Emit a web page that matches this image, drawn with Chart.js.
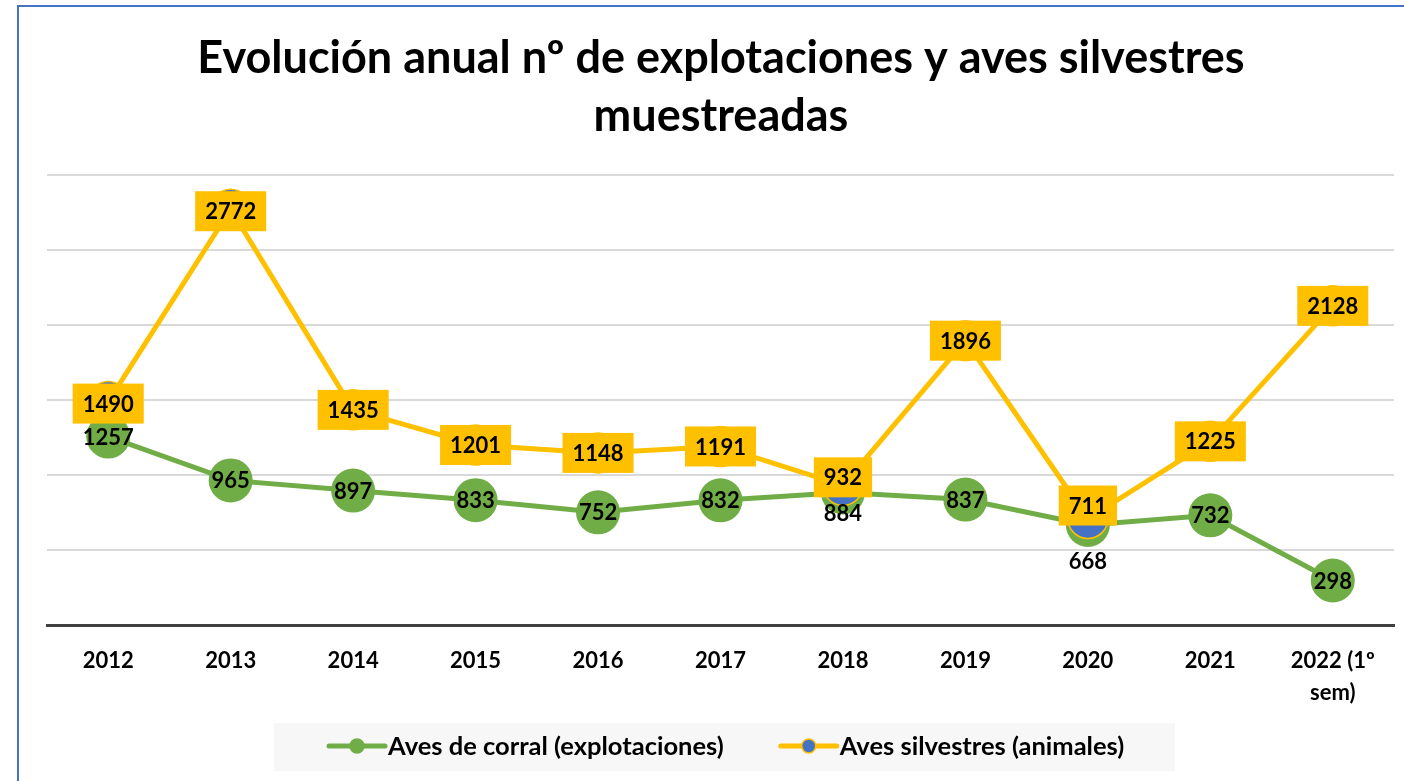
<!DOCTYPE html>
<html>
<head>
<meta charset="utf-8">
<script src="https://cdn.jsdelivr.net/npm/chart.js@4.4.1/dist/chart.umd.min.js"></script>
<style>
  html, body { margin: 0; padding: 0; background: #fff; overflow: hidden; }
  #frame { position: absolute; left: 17px; top: 5px; width: 1500px; height: 900px; border: 2px solid #4472c4; box-sizing: border-box; }
  #wrap { position: absolute; left: 0; top: 0; width: 1404px; height: 781px; }
</style>
</head>
<body>
<div id="frame"></div>
<div id="wrap"><canvas id="c" width="1404" height="781"></canvas></div>
<script>
const TITLE_LINES = ['Evolución anual nº de explotaciones y aves silvestres', 'muestreadas'];
const CATEGORIES = ['2012', '2013', '2014', '2015', '2016', '2017', '2018', '2019', '2020', '2021', ['2022 (1º', 'sem)']];
const SERIES_NAMES = ['Aves de corral (explotaciones)', 'Aves silvestres (animales)'];
const CORRAL = [1257, 965, 897, 833, 752, 832, 884, 837, 668, 732, 298];
const SILVESTRES = [1490, 2772, 1435, 1201, 1148, 1191, 932, 1896, 711, 1225, 2128];
const Y_MIN = 0, Y_MAX = 3000, Y_STEP = 500;

const FONT = 'Lato, "Open Sans", sans-serif';
const GREEN = '#70ad47', YELLOW = '#ffc000', BLUE = '#4472c4';

const titlePlugin = {
  id: 'customTitle',
  afterDraw(chart) {
    const ctx = chart.ctx;
    ctx.save();
    ctx.font = 'bold 45px ' + FONT;
    ctx.fillStyle = '#000';
    ctx.textAlign = 'center';
    ctx.textBaseline = 'middle';
    const cx = 721;
    TITLE_LINES.forEach((t, i) => ctx.fillText(t, cx, 58 + i * 58));
    ctx.restore();
  }
};

const labelPlugin = {
  id: 'valueLabels',
  afterDatasetsDraw(chart) {
    const ctx = chart.ctx;
    ctx.save();
    ctx.font = 'bold 22px ' + FONT;
    ctx.textAlign = 'center';
    ctx.textBaseline = 'middle';
    const gMeta = chart.getDatasetMeta(0);
    const below = {6: 20, 8: 36};
    gMeta.data.forEach((pt, i) => {
      const dy = below[i] || 0;
      ctx.fillStyle = '#000';
      ctx.fillText(String(chart.data.datasets[0].data[i]), pt.x, pt.y + dy + 1);
    });
    const yMeta = chart.getDatasetMeta(1);
    const shift = {6: -8, 8: -13, 0: 2, 1: 2};
    yMeta.data.forEach((pt, i) => {
      const txt = String(chart.data.datasets[1].data[i]);
      const w = ctx.measureText(txt).width + 20;
      const h = 40;
      const cy = pt.y + (shift[i] || 0);
      ctx.fillStyle = YELLOW;
      ctx.fillRect(pt.x - w / 2, cy - h / 2, w, h);
      ctx.fillStyle = '#000';
      ctx.fillText(txt, pt.x, cy + 1);
    });
    ctx.restore();
  }
};

const legendPlugin = {
  id: 'customLegend',
  afterDraw(chart) {
    const ctx = chart.ctx;
    ctx.save();
    ctx.fillStyle = '#f7f7f7';
    ctx.fillRect(274, 723, 901, 48);
    ctx.font = 'bold 25.5px ' + FONT;
    ctx.textBaseline = 'middle';
    ctx.textAlign = 'left';
    const y = 746;
    let x = 329;
    chart.data.datasets.forEach((ds, i) => {
      ctx.strokeStyle = ds.borderColor;
      ctx.lineWidth = 5;
      ctx.lineCap = 'round';
      ctx.beginPath(); ctx.moveTo(x, y); ctx.lineTo(x + 56, y); ctx.stroke();
      ctx.beginPath(); ctx.arc(x + 28, y, 7, 0, Math.PI * 2);
      ctx.fillStyle = ds.pointBackgroundColor; ctx.fill();
      ctx.lineWidth = 1.5; ctx.strokeStyle = ds.pointBorderColor; ctx.stroke();
      ctx.fillStyle = '#000';
      ctx.fillText(ds.label, x + 59, y + 1);
      x += 59 + ctx.measureText(ds.label).width + 57;
    });
    ctx.restore();
  }
};

new Chart(document.getElementById('c'), {
  type: 'line',
  data: {
    labels: CATEGORIES,
    datasets: [
      {
        label: SERIES_NAMES[0], data: CORRAL, order: 1, clip: false,
        borderColor: GREEN, borderWidth: 5, backgroundColor: GREEN,
        pointRadius: 22, pointBackgroundColor: GREEN, pointBorderColor: GREEN, pointBorderWidth: 0,
        tension: 0
      },
      {
        label: SERIES_NAMES[1], data: SILVESTRES, order: 0, clip: false,
        borderColor: YELLOW, borderWidth: 5, backgroundColor: BLUE,
        pointRadius: 20, pointBackgroundColor: BLUE, pointBorderColor: YELLOW, pointBorderWidth: 1.5,
        tension: 0
      }
    ]
  },
  options: {
    responsive: false,
    animation: false,
    layout: { autoPadding: false, padding: { top: 175, left: 47, right: 10, bottom: 52 } },
    plugins: { legend: { display: false }, title: { display: false }, tooltip: { enabled: false } },
    scales: {
      x: {
        offset: true,
        grid: { display: false, drawTicks: false },
        border: { display: true, color: '#404040', width: 3 },
        ticks: { color: '#000', font: { family: FONT, size: 22, weight: 'bold', lineHeight: 1.45 }, padding: 20, maxRotation: 0, autoSkip: false },
        afterFit(scale) { scale.paddingLeft = 0; scale.paddingRight = 0; }
      },
      y: {
        min: Y_MIN, max: Y_MAX,
        ticks: { display: false, stepSize: Y_STEP },
        grid: { color: '#d9d9d9', lineWidth: 2, drawTicks: false },
        border: { display: false }
      }
    }
  },
  plugins: [titlePlugin, labelPlugin, legendPlugin]
});
</script>
</body>
</html>
